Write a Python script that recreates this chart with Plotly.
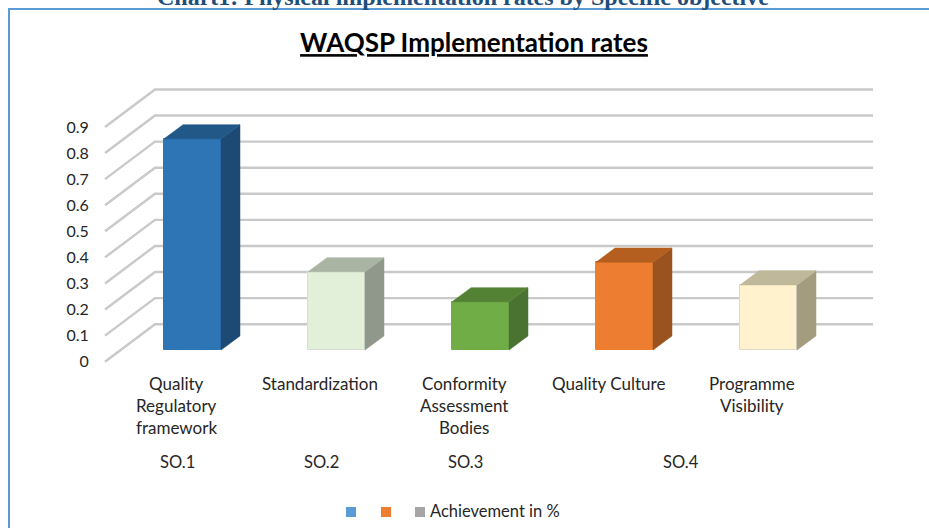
import plotly.graph_objects as go

categories = [["Quality", "Regulatory", "framework"], ["Standardization"],
              ["Conformity", "Assessment", "Bodies"], ["Quality Culture"],
              ["Programme", "Visibility"]]
values = [0.81, 0.30, 0.185, 0.337, 0.25]
front_colors = ["#2E75B6", "#E2F0D9", "#70AD47", "#ED7D31", "#FFF2CC"]
side_colors = ["#1C4A75", "#8F988B", "#4A7230", "#9A521F", "#A39C7F"]
top_colors = ["#215888", "#A9B5A2", "#548235", "#B45F1F", "#BFB89A"]
edge_colors = ["#2E75B6", "#D9DDD5", "#70AD47", "#ED7D31", "#DCDAD0"]
y_ticks = [0, 0.1, 0.2, 0.3, 0.4, 0.5, 0.6, 0.7, 0.8, 0.9]
so_labels = ["SO.1", "SO.2", "SO.3", "SO.4"]
so_positions = [0.5, 1.5, 2.5, 4.0]
legend_colors = ["#5B9BD5", "#ED7D31", "#A5A5A5"]
legend_label = "Achievement in %"

W, H = 929, 528
FONT = "Lato, Carlito, Calibri, sans-serif"
X0_PX, Y0_PX = 105.0, 361.7
PX_X, PX_Y = 144.0, 260.8
L, R, T, B = 101.0, 873.0, 80.0, 366.0
xr = [(L - X0_PX) / PX_X, (R - X0_PX) / PX_X]
yr = [(Y0_PX - B) / PX_Y, (Y0_PX - T) / PX_Y]
DX, DY = 50 / PX_X, 37.5 / PX_Y
FX, FY = 15.5 / PX_X, 11.6 / PX_Y
BDX, BDY = 19 / PX_X, 14.2 / PX_Y
BAR_W = 57 / PX_X


def xp(px):
    return (px - L) / (R - L)


def yp(py):
    return (B - py) / (B - T)


fig = go.Figure()
shapes = []
for v in y_ticks:
    pts = f"M 0 {v} L {DX} {v + DY} L {5 + DX - 2 / PX_X} {v + DY}"
    shapes.append(dict(type="path", path=pts, xref="x", yref="y", layer="below",
                       line=dict(color="#C9C9C9", width=2.4)))

centers = [i + 0.5 + FX for i in range(len(values))]
bases = [FY] * len(values)
fig.add_trace(go.Bar(x=centers, y=values, base=bases, width=BAR_W,
                     marker=dict(color=front_colors,
                                 line=dict(color=edge_colors, width=1)),
                     hoverinfo="skip", showlegend=False))
for c, v, sc, tc in zip(centers, values, side_colors, top_colors):
    r = c + BAR_W / 2
    l = c - BAR_W / 2
    fig.add_trace(go.Scatter(x=[r, r + BDX, r + BDX, r, r],
                             y=[FY, FY + BDY, FY + v + BDY, FY + v, FY],
                             mode="lines", fill="toself", fillcolor=sc,
                             line=dict(color=sc, width=0.5),
                             hoverinfo="skip", showlegend=False))
    fig.add_trace(go.Scatter(x=[l, l + BDX, r + BDX, r, l],
                             y=[FY + v, FY + v + BDY, FY + v + BDY, FY + v, FY + v],
                             mode="lines", fill="toself", fillcolor=tc,
                             line=dict(color=tc, width=0.5),
                             hoverinfo="skip", showlegend=False))

# Outer frame
shapes.append(dict(type="line", xref="paper", yref="paper", x0=xp(9), x1=xp(929),
                   y0=yp(9), y1=yp(9), line=dict(color="#5B9BD5", width=2)))
shapes.append(dict(type="line", xref="paper", yref="paper", x0=xp(9), x1=xp(9),
                   y0=yp(8), y1=yp(528), line=dict(color="#5B9BD5", width=2)))

# Legend swatches
for left, col in zip([346, 381, 415], legend_colors):
    shapes.append(dict(type="rect", xref="paper", yref="paper", x0=xp(left), x1=xp(left + 10),
                       y0=yp(507), y1=yp(517), fillcolor=col, line=dict(width=0)))

ann = []
LINE_PX = [383, 405.5, 428]
for i, lines in enumerate(categories):
    for j, text in enumerate(lines):
        ann.append(dict(text=text, x=i + 0.5 - 1 / PX_X, xref="x", y=yp(LINE_PX[j]), yref="paper",
                        showarrow=False, xanchor="center", yanchor="middle",
                        font=dict(family=FONT, size=17, color="#262626")))
for text, pos in zip(so_labels, so_positions):
    ann.append(dict(text=text, x=pos, xref="x", y=yp(462), yref="paper",
                    showarrow=False, xanchor="center", yanchor="middle",
                    font=dict(family=FONT, size=16.5, color="#262626")))
ann.append(dict(text=legend_label, x=xp(428), xref="paper", y=yp(511), yref="paper",
                showarrow=False, xanchor="left", yanchor="middle",
                font=dict(family=FONT, size=16.5, color="#262626")))
ann.append(dict(text="<b>Chart1: Physical implementation rates by Specific objective</b>",
                x=xp(463), xref="paper", y=yp(-3), yref="paper", showarrow=False,
                xanchor="center", yanchor="middle",
                font=dict(family="Liberation Serif, serif", size=24, color="#1F4E79")))

fig.update_layout(
    width=W, height=H, paper_bgcolor="white", plot_bgcolor="white",
    margin=dict(l=L, r=W - R, t=T, b=H - B, pad=0, autoexpand=False),
    title=dict(text="<b><u>WAQSP Implementation rates</u></b>", x=474 / W, xref="container",
               y=1 - 43 / H, yref="container", xanchor="center", yanchor="middle",
               font=dict(family=FONT, size=26, color="#000000")),
    xaxis=dict(range=xr, showgrid=False, zeroline=False, showline=False, showticklabels=False,
               ticks="", fixedrange=True),
    yaxis=dict(range=yr, tickmode="array", tickvals=y_ticks, ticktext=[str(t) for t in y_ticks],
               showgrid=False, zeroline=False, showline=False, ticks="outside", ticklen=8,
               tickcolor="rgba(0,0,0,0)", tickfont=dict(family=FONT, size=16, color="#262626"),
               fixedrange=True),
    shapes=shapes, annotations=ann, showlegend=False, bargap=0,
)
fig.write_html("out.html", config={"displayModeBar": False},
               post_script="document.body.style.margin='0';document.body.style.overflow='hidden';")
